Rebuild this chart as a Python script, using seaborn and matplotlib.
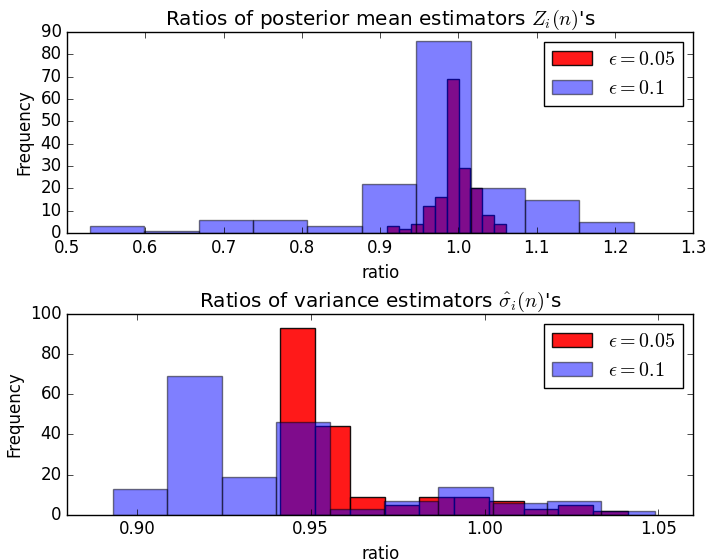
import numpy as np
import seaborn as sns
import matplotlib
matplotlib.use('Agg')
import matplotlib.pyplot as plt

# histogram edges and counts
mean_edges_005 = np.linspace(0.909, 1.061, 11)
mean_counts_005 = [3, 2, 4, 12, 16, 69, 29, 20, 8, 4]
mean_edges_01 = np.linspace(0.529, 1.224, 11)
mean_counts_01 = [3, 1, 6, 6, 3, 22, 86, 20, 15, 5]

var_edges_005 = np.linspace(0.9413, 1.0412, 11)
var_counts_005 = [93, 44, 9, 5, 9, 9, 7, 3, 5, 2]
var_edges_01 = np.linspace(0.8932, 1.0491, 11)
var_counts_01 = [13, 69, 19, 46, 3, 7, 14, 6, 7, 2]

labels = [r'$\epsilon=0.05$', r'$\epsilon=0.1$']

plt.style.use('classic')
plt.rcParams['figure.facecolor'] = 'white'
plt.rcParams['savefig.facecolor'] = 'white'

fig, axes = plt.subplots(2, 1, figsize=(7.08, 5.59), dpi=100)
fig.subplots_adjust(left=0.095, right=0.979, top=0.943, bottom=0.079, hspace=0.40)


def draw(ax, e1, c1, e2, c2):
    centers1 = (e1[:-1] + e1[1:]) / 2
    centers2 = (e2[:-1] + e2[1:]) / 2
    # edges carry the same alpha as the faces, like plain plt.hist
    sns.histplot(x=centers1, weights=np.asarray(c1, float), bins=list(e1),
                 facecolor=(1, 0, 0, 0.9), edgecolor=(0, 0, 0, 0.9),
                 linewidth=1, label=labels[0], ax=ax)
    sns.histplot(x=centers2, weights=np.asarray(c2, float), bins=list(e2),
                 facecolor=(0, 0, 1, 0.5), edgecolor=(0, 0, 0, 0.5),
                 linewidth=1, label=labels[1], ax=ax)
    ax.set_xlabel('ratio')
    ax.set_ylabel('Frequency')
    ax.legend(loc='upper right', fontsize=14.4)


ax = axes[0]
draw(ax, mean_edges_005, mean_counts_005, mean_edges_01, mean_counts_01)
ax.set_title("Ratios of posterior mean estimators $Z_i(n)$'s")
ax.set_xlim(0.5, 1.3)
ax.set_ylim(0, 90)

ax = axes[1]
draw(ax, var_edges_005, var_counts_005, var_edges_01, var_counts_01)
ax.set_title(r"Ratios of variance estimators $\hat{\sigma}_i(n)$'s")
ax.set_xlim(0.88, 1.06)
ax.set_ylim(0, 100)
ax.set_xticks([0.90, 0.95, 1.00, 1.05])

plt.savefig('out.png', dpi=100)
